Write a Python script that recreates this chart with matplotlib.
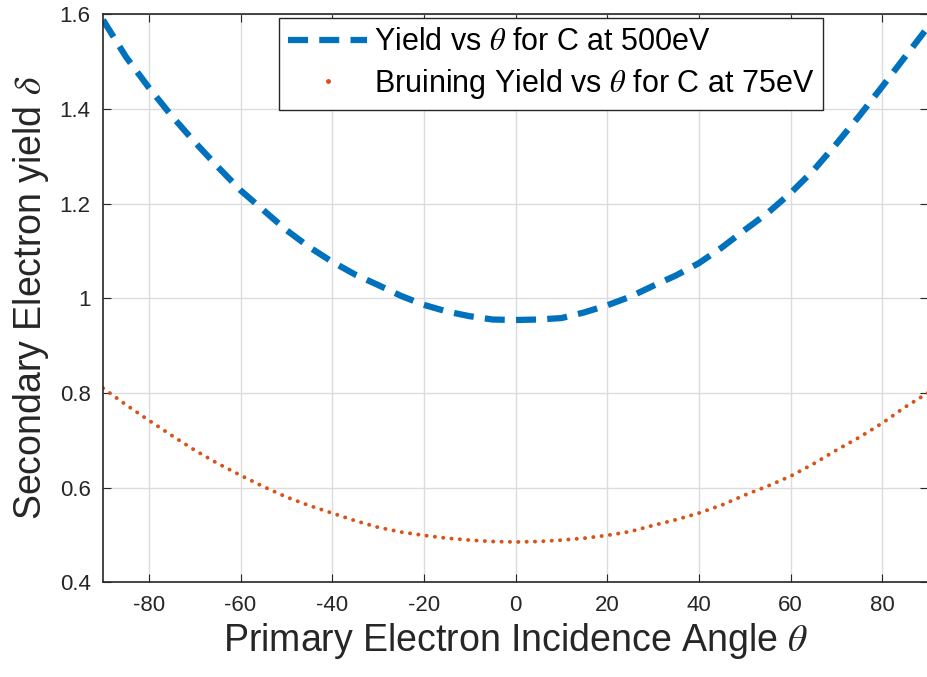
import matplotlib
matplotlib.use('Agg')
import matplotlib.pyplot as plt
from matplotlib.lines import Line2D

plt.rcParams['font.family'] = ['Liberation Sans', 'DejaVu Sans']
plt.rcParams['mathtext.fontset'] = 'stix'
plt.rcParams['axes.unicode_minus'] = False

angle = [-90, -85, -80, -75, -70, -65, -60, -55, -50, -45, -40, -35, -30, -25, -20, -15, -10, -5, 0,
         5, 10, 15, 20, 25, 30, 35, 40, 45, 50, 55, 60, 65, 70, 75, 80, 85, 90]
yield_500 = [1.588, 1.51, 1.445, 1.385, 1.33, 1.278, 1.228, 1.186, 1.144, 1.108, 1.077, 1.05, 1.028, 1.005,
             0.986, 0.972, 0.962, 0.955, 0.954, 0.955, 0.958, 0.97, 0.985, 1.003, 1.026, 1.048, 1.074,
             1.107, 1.144, 1.18, 1.222, 1.27, 1.326, 1.385, 1.447, 1.51, 1.573]
yield_75 = [0.81, 0.775, 0.742, 0.71, 0.679, 0.651, 0.626, 0.602, 0.58, 0.562, 0.546, 0.53, 0.516, 0.506,
            0.499, 0.493, 0.489, 0.486, 0.485, 0.486, 0.489, 0.493, 0.499, 0.507, 0.52, 0.532, 0.546,
            0.563, 0.584, 0.603, 0.624, 0.65, 0.679, 0.706, 0.736, 0.77, 0.80]

blue = '#0072BD'
orange = '#D95319'

fig = plt.figure(figsize=(9.28, 6.77), dpi=100)
ax = fig.add_axes([0.111, 0.140, 0.889, 0.839])

ax.plot(angle, yield_500, color=blue, lw=4.5, linestyle=(0, (3.2, 1.8)), dash_capstyle='butt')
ax.plot(angle, yield_75, color=orange, lw=2.8, linestyle=(0, (0.05, 2.1)), dash_capstyle='round')

ax.set_xlim(-90, 90)
ax.set_ylim(0.4, 1.6)
ax.set_xticks([-80, -60, -40, -20, 0, 20, 40, 60, 80])
ax.set_yticks([0.4, 0.6, 0.8, 1.0, 1.2, 1.4, 1.6])
ax.set_yticklabels(['0.4', '0.6', '0.8', '1', '1.2', '1.4', '1.6'])
ax.grid(True, color='#dcdcdc', lw=1.0)
ax.set_axisbelow(True)
ax.tick_params(direction='in', top=True, right=True, labelsize=16, colors='#262626', length=6, pad=9)
for s in ax.spines.values():
    s.set_color('#262626')
    s.set_linewidth(1.2)

ax.set_xlabel(r'Primary Electron Incidence Angle $\theta$', fontsize=27, color='#262626', labelpad=4)
ax.set_ylabel(r'Secondary Electron yield $\delta$', fontsize=27, color='#262626', labelpad=6)

handles = [Line2D([], [], color=blue, lw=4.5, linestyle=(0, (3.2, 1.8))),
           Line2D([], [], color=orange, marker='.', markersize=5, linestyle='none')]
labels = [r'Yield vs $\theta$ for C at 500eV', r'Bruining Yield vs $\theta$ for C at 75eV']
leg = ax.legend(handles, labels, loc='upper center', bbox_to_anchor=(0.543, 0.993), fontsize=22,
                fancybox=False, framealpha=1, edgecolor='#262626', handlelength=2.6,
                handletextpad=0.2, borderpad=0.3, labelspacing=0.3, borderaxespad=0)
leg.get_frame().set_linewidth(1.0)

fig.savefig('out.png', dpi=100, facecolor='white')
